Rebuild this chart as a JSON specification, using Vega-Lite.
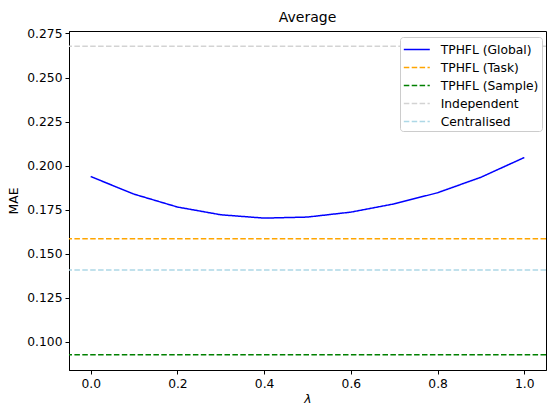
{
  "$schema": "https://vega.github.io/schema/vega-lite/v6.json",
  "width": 477,
  "height": 339,
  "autosize": {"type": "none"},
  "padding": {"left": 69, "top": 31, "right": 1, "bottom": 37},
  "title": {"text": "Average", "fontSize": 14, "fontWeight": "normal", "font": "DejaVu Sans", "offset": 2, "color": "#000"},
  "config": {
    "font": "DejaVu Sans",
    "view": {"stroke": "#000", "strokeWidth": 1},
    "axis": {"grid": false, "domainColor": "#000", "tickColor": "#000", "labelColor": "#000", "titleColor": "#000", "labelFontSize": 12.3, "titleFontSize": 12.3, "titleFontWeight": "normal", "tickSize": 4, "labelFont": "DejaVu Sans", "titleFont": "DejaVu Sans"}
  },
  "datasets": {
    "global": [
      {"lambda": 0.0, "mae": 0.1938, "series": "TPHFL (Global)"},
      {"lambda": 0.1, "mae": 0.1838, "series": "TPHFL (Global)"},
      {"lambda": 0.2, "mae": 0.1765, "series": "TPHFL (Global)"},
      {"lambda": 0.3, "mae": 0.1721, "series": "TPHFL (Global)"},
      {"lambda": 0.4, "mae": 0.1702, "series": "TPHFL (Global)"},
      {"lambda": 0.5, "mae": 0.1708, "series": "TPHFL (Global)"},
      {"lambda": 0.6, "mae": 0.1736, "series": "TPHFL (Global)"},
      {"lambda": 0.7, "mae": 0.1783, "series": "TPHFL (Global)"},
      {"lambda": 0.8, "mae": 0.1846, "series": "TPHFL (Global)"},
      {"lambda": 0.9, "mae": 0.1934, "series": "TPHFL (Global)"},
      {"lambda": 1.0, "mae": 0.2046, "series": "TPHFL (Global)"}
    ],
    "baselines": [
      {"mae": 0.1585, "series": "TPHFL (Task)"},
      {"mae": 0.0927, "series": "TPHFL (Sample)"},
      {"mae": 0.2677, "series": "Independent"},
      {"mae": 0.1407, "series": "Centralised"}
    ]
  },
  "layer": [
    {
      "data": {"name": "baselines"},
      "mark": {"type": "rule", "strokeWidth": 1.5},
      "encoding": {
        "y": {"field": "mae", "type": "quantitative"},
        "color": {"field": "series", "type": "nominal"},
        "strokeDash": {"field": "series", "type": "nominal"}
      }
    },
    {
      "data": {"name": "global"},
      "mark": {"type": "line", "strokeWidth": 1.5, "clip": true},
      "encoding": {
        "x": {"field": "lambda", "type": "quantitative", "title": "λ",
          "scale": {"domain": [-0.05, 1.05], "nice": false, "zero": false},
          "axis": {"values": [0, 0.2, 0.4, 0.6, 0.8, 1.0], "format": ".1f", "titleFontStyle": "italic", "titlePadding": 3, "labelPadding": 3}},
        "y": {"field": "mae", "type": "quantitative", "title": "MAE",
          "scale": {"domain": [0.0840, 0.2764], "nice": false, "zero": false},
          "axis": {"values": [0.1, 0.125, 0.15, 0.175, 0.2, 0.225, 0.25, 0.275], "format": ".3f", "titlePadding": 6, "labelPadding": 3}},
        "color": {"field": "series", "type": "nominal",
          "scale": {"domain": ["TPHFL (Global)", "TPHFL (Task)", "TPHFL (Sample)", "Independent", "Centralised"],
                    "range": ["#0000ff", "#ffa500", "#008000", "#d3d3d3", "#add8e6"]},
          "legend": {"title": null, "orient": "none", "legendX": 331, "legendY": 6, "symbolType": "M-1.5,0L1.5,0", "symbolSize": 300, "symbolStrokeWidth": 1.5, "symbolOffset": 4.3,
            "labelFontSize": 12.3, "labelColor": "#000", "fillColor": "#fff", "strokeColor": "#cccccc", "cornerRadius": 3, "padding": 3, "rowPadding": 2, "labelOffset": 14.4}},
        "strokeDash": {"field": "series", "type": "nominal",
          "scale": {"domain": ["TPHFL (Global)", "TPHFL (Task)", "TPHFL (Sample)", "Independent", "Centralised"],
                    "range": [[1, 0], [5.5, 2.4], [5.5, 2.4], [5.5, 2.4], [5.5, 2.4]]},
          "legend": null}
      }
    }
  ]
}
